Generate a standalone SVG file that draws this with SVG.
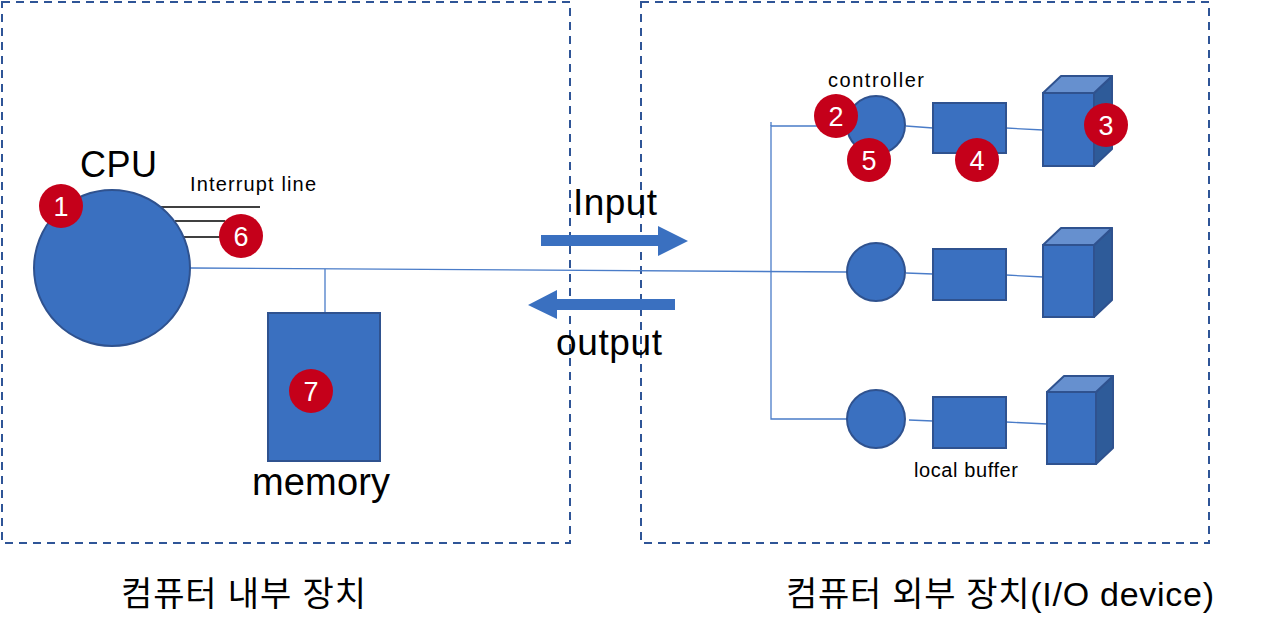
<svg xmlns="http://www.w3.org/2000/svg" width="1262" height="633" viewBox="0 0 1262 633">
<style>
.box{fill:none;stroke:#2F5597;stroke-width:2;stroke-dasharray:8 6}
.shape{fill:#3A70C0;stroke:#2F528F;stroke-width:2}
.side{fill:#2E5B99;stroke:#2F528F;stroke-width:2;stroke-linejoin:round}
.top{fill:#6690CF;stroke:#2F528F;stroke-width:2;stroke-linejoin:round}
.wire{stroke:#4A7CC8;stroke-width:1.3;fill:none}
.int{stroke:#000;stroke-width:1.3}
.badge circle{fill:#C5001A}
.badge text{fill:#fff;font-family:"Liberation Sans",Arial,sans-serif;font-size:27px;text-anchor:middle}
.t{font-family:"Liberation Sans",Arial,"Noto Sans CJK KR",sans-serif;fill:#000}
.arrow{fill:#3A70C0}
</style>
<g id="internal-box"><rect class="box" x="2" y="2" width="568" height="541"/></g>
<g id="external-box"><rect class="box" x="641" y="2" width="568" height="541"/></g>

<g id="connectors">
<line class="wire" x1="190" y1="268" x2="848" y2="272"/>
<line class="wire" x1="325" y1="269" x2="325" y2="313"/>
<polyline class="wire" points="848,126 771,126 771,419 848,419"/>
<line class="wire" x1="771" y1="122" x2="771" y2="126"/>
<line class="wire" x1="906" y1="126" x2="933" y2="128"/>
<line class="wire" x1="1006" y1="128" x2="1043" y2="130"/>
<line class="wire" x1="906" y1="273" x2="933" y2="274"/>
<line class="wire" x1="1006" y1="275" x2="1043" y2="277"/>
<line class="wire" x1="909" y1="420" x2="933" y2="421"/>
<line class="wire" x1="1006" y1="422" x2="1047" y2="424"/>
<line class="int" x1="160" y1="207" x2="260" y2="207"/>
<line class="int" x1="175" y1="221" x2="225" y2="221"/>
<line class="int" x1="184" y1="237" x2="222" y2="237"/>
</g>

<g id="cpu">
<circle class="shape" cx="112" cy="268" r="78"/>
<text class="t" x="80" y="177" font-size="36" textLength="77">CPU</text>
<text class="t" x="190" y="191" font-size="20" textLength="126">Interrupt line</text>
</g>

<g id="memory">
<rect class="shape" x="268" y="313" width="112" height="148"/>
<text class="t" x="252" y="495" font-size="38" textLength="138">memory</text>
</g>

<g id="input-arrow">
<polygon class="arrow" points="541,235 658,235 658,226 688,241 658,256 658,246 541,246"/>
<text class="t" x="573" y="215" font-size="37" textLength="84">Input</text>
</g>
<g id="output-arrow">
<polygon class="arrow" points="675,299 557,299 557,290 528,305 557,319 557,310 675,310"/>
<text class="t" x="556" y="355" font-size="37" textLength="106">output</text>
</g>

<g id="device1">
<circle class="shape" cx="876" cy="125" r="29"/>
<rect class="shape" x="933" y="103" width="73" height="50"/>
<polygon class="side" points="1094,93 1112,76 1112,149 1094,166"/>
<polygon class="top" points="1043,93 1061,76 1112,76 1094,93"/>
<rect class="shape" x="1043" y="93" width="51" height="73"/>
<text class="t" x="828" y="87" font-size="20" textLength="96">controller</text>
</g>
<g id="device2">
<circle class="shape" cx="876" cy="272" r="29"/>
<rect class="shape" x="933" y="249" width="73" height="51"/>
<polygon class="side" points="1094,245 1112,228 1112,300 1094,317"/>
<polygon class="top" points="1043,245 1061,228 1112,228 1094,245"/>
<rect class="shape" x="1043" y="245" width="51" height="72"/>
</g>
<g id="device3">
<circle class="shape" cx="876" cy="419" r="29"/>
<rect class="shape" x="933" y="397" width="73" height="51"/>
<polygon class="side" points="1096,392 1113,376 1113,448 1096,464"/>
<polygon class="top" points="1047,392 1064,376 1113,376 1096,392"/>
<rect class="shape" x="1047" y="392" width="49" height="72"/>
<text class="t" x="914" y="477" font-size="20" textLength="104">local buffer</text>
</g>

<g id="badge1" class="badge"><circle cx="61" cy="206" r="22"/><text x="61" y="216">1</text></g>
<g id="badge2" class="badge"><circle cx="836" cy="116" r="22"/><text x="836" y="126">2</text></g>
<g id="badge3" class="badge"><circle cx="1106" cy="125" r="22"/><text x="1106" y="135">3</text></g>
<g id="badge4" class="badge"><circle cx="977" cy="160" r="22"/><text x="977" y="170">4</text></g>
<g id="badge5" class="badge"><circle cx="869" cy="160" r="22"/><text x="869" y="170">5</text></g>
<g id="badge6" class="badge"><circle cx="241" cy="236" r="22"/><text x="241" y="246">6</text></g>
<g id="badge7" class="badge"><circle cx="311" cy="391" r="22"/><text x="311" y="401">7</text></g>

<g id="labels">
<text class="t" x="121" y="606" font-size="34" textLength="245">컴퓨터 내부 장치</text>
<text class="t" x="786" y="606" font-size="34" textLength="428">컴퓨터 외부 장치(I/O device)</text>
</g>
</svg>
